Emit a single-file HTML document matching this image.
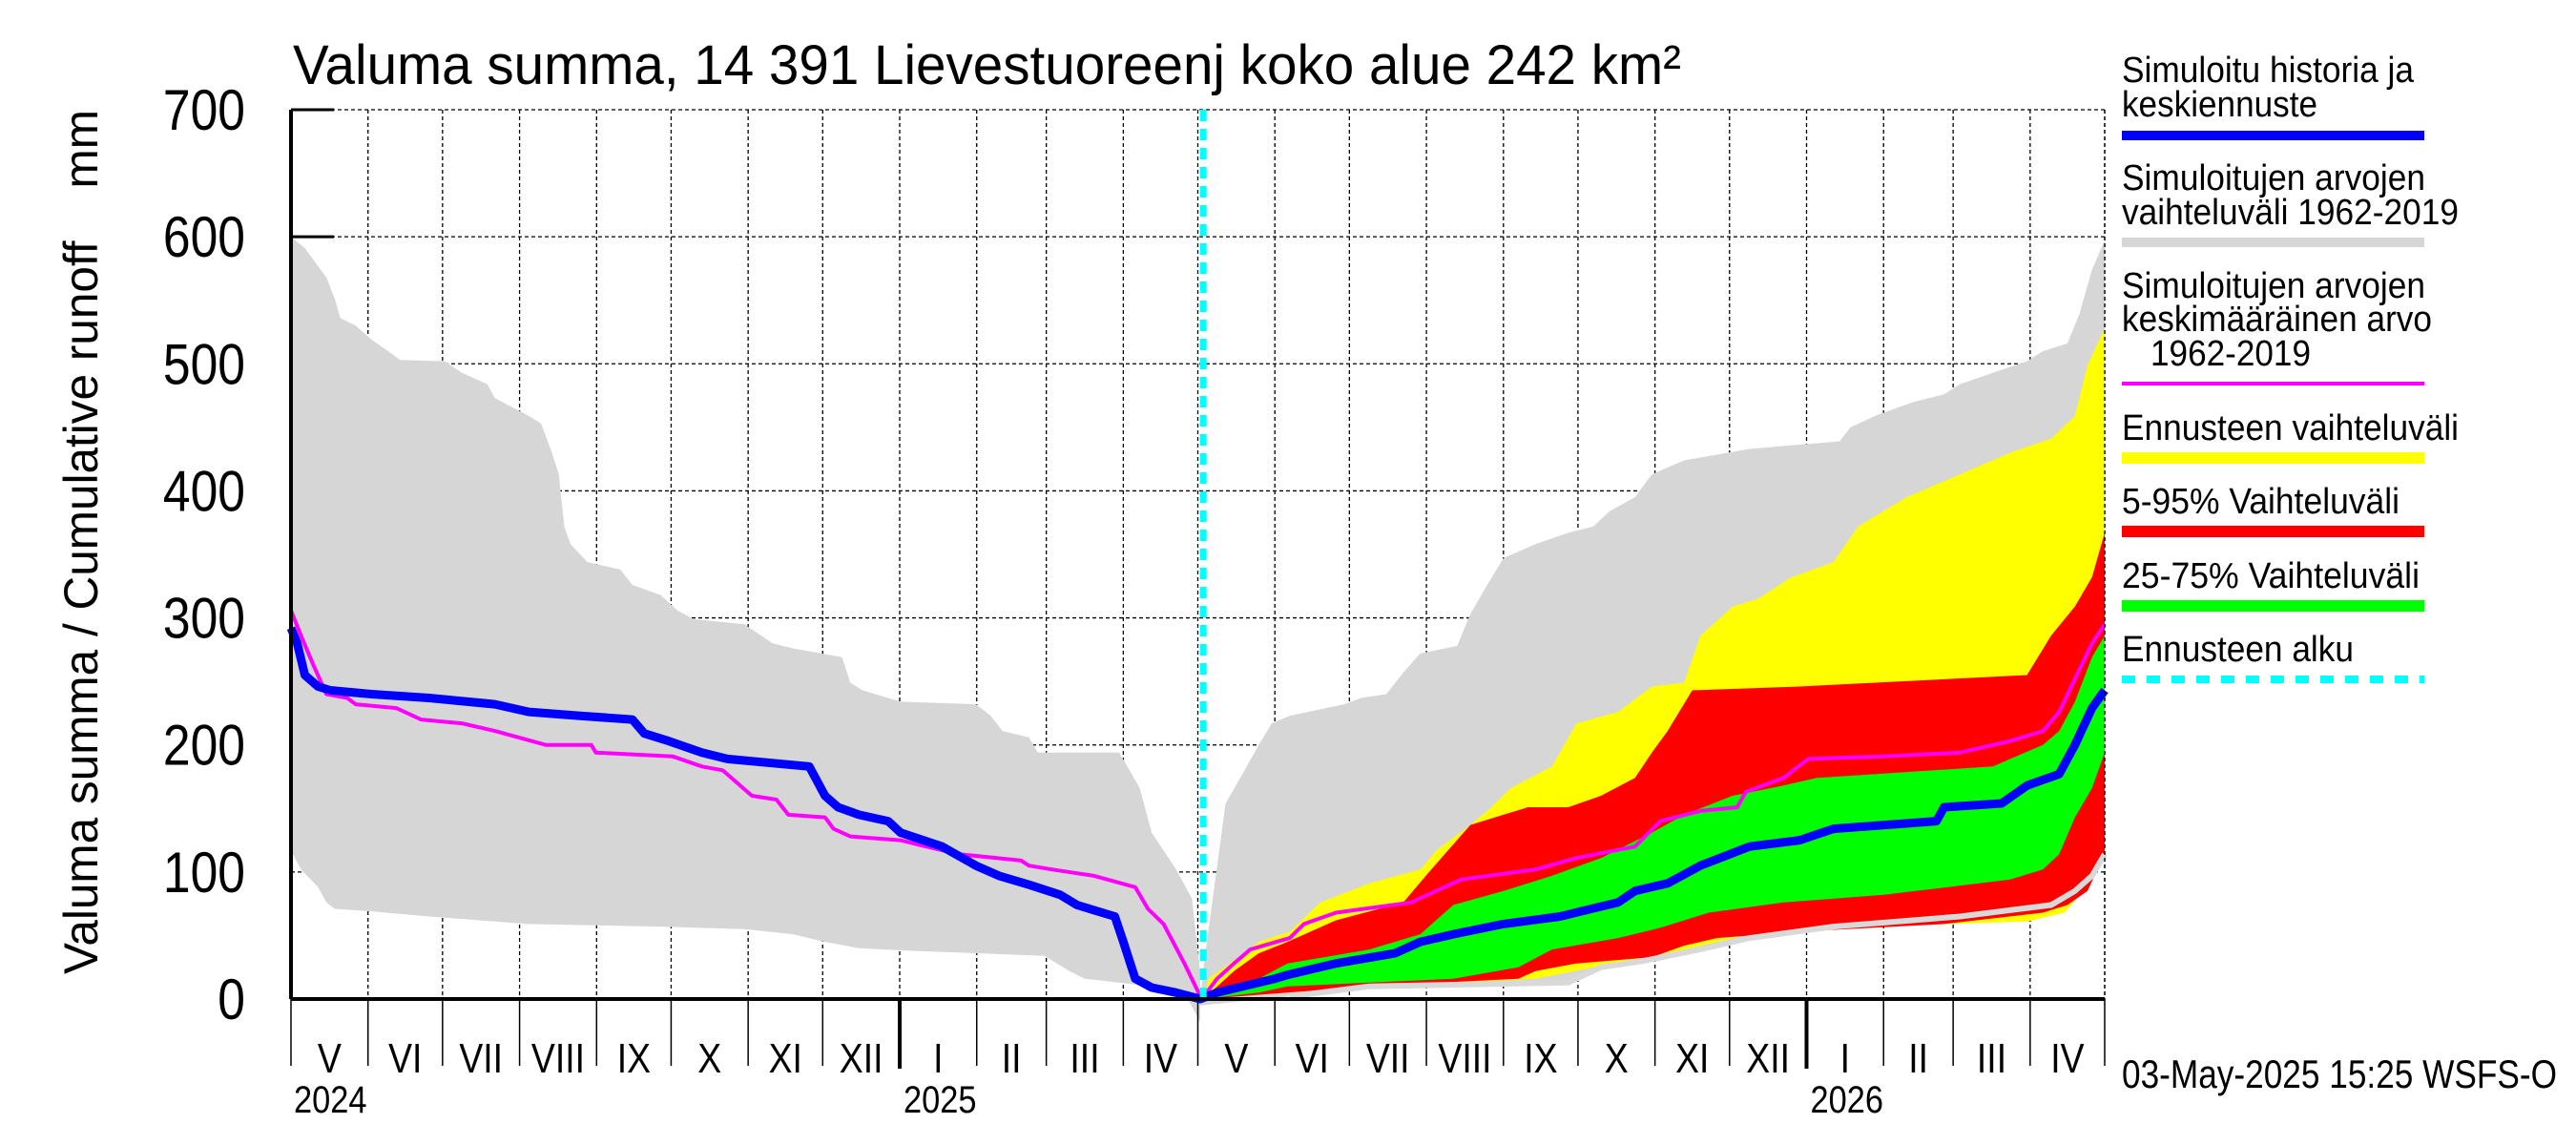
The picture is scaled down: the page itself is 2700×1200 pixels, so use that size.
<!DOCTYPE html>
<html><head><meta charset="utf-8"><style>
html,body{margin:0;padding:0;background:#fff;}
svg{display:block;font-family:"Liberation Sans",sans-serif;}
</style></head><body>
<svg id="chart" width="2700" height="1200" viewBox="0 0 2700 1200" xmlns="http://www.w3.org/2000/svg">
<text x="307" y="88" font-size="58" textLength="1455" lengthAdjust="spacingAndGlyphs">Valuma summa, 14 391 Lievestuoreenj koko alue 242 km²</text>
<text transform="translate(102,568) rotate(-90)" text-anchor="middle" font-size="50" textLength="906" lengthAdjust="spacingAndGlyphs" xml:space="preserve">Valuma summa / Cumulative runoff    mm</text>
<g id="grid"></g>
<g id="bands"></g>
<g id="lines"></g>
<g id="axes"></g>
<g id="legend"></g>
<text x="2224" y="1140" font-size="42" textLength="456" lengthAdjust="spacingAndGlyphs">03-May-2025 15:25 WSFS-O</text>
</svg>
<script>
// time in months from 1 May 2024; values in mm
const yTicks=[0,100,200,300,400,500,600,700];
const monthLabels=["V","VI","VII","VIII","IX","X","XI","XII","I","II","III","IV","V","VI","VII","VIII","IX","X","XI","XII","I","II","III","IV"];
const monthDays=[31,30,31,31,30,31,30,31,31,28,31,30,31,30,31,31,30,31,30,31,31,28,31,30];
const yearLabels=["2024","2025","2026"];
const yearMonths=[0,8,20];
const forecastStart=12.07;

const histGrayUpT=[0,0.18,0.46,0.57,0.64,0.84,1.05,1.27,1.43,2.03,2.25,2.58,2.68,3.12,3.28,3.42,3.51,3.58,3.66,3.88,4.32,4.48,4.86,5.08,5.29,5.95,6.33,6.6,7.25,7.36,7.52,8.01,8.99,9.2,9.37,9.75,9.88,10.95,11.22,11.38,11.71,11.92,12.03];
const histGrayUpV=[600,591,568,551,536,530,519,510,503,502,493,484,473,459,453,430,413,372,358,344,338,326,318,306,299,295,280,276,269,249,243,234,232,223,211,206,194,194,166,131,102,79,22];
const histGrayLoT=[0,0.13,0.35,0.46,0.57,1.05,1.82,2.9,3.1,4.86,5.95,6.6,7.03,7.47,8.12,9.97,10.3,10.5,11.38,11.8,12.03];
const histGrayLoV=[117,102,88,76,71,69,65,60,59,57,55,51,45,40,38,34,22,16,10,7,-18];

const fcGrayUpT=[12.03,12.09,12.36,12.58,12.79,12.96,13.2,13.93,14.15,14.48,14.7,14.92,15.4,15.57,15.79,16.0,16.43,16.87,17.2,17.41,17.74,17.96,18.39,19.26,20.43,20.57,20.89,21.43,21.87,22.09,22.52,22.96,23.17,23.5,23.66,23.83,24];
const fcGrayUpV=[0,33,154,177,200,217,223,232,237,240,257,272,278,303,326,347,358,367,372,384,395,413,424,433,439,450,459,470,476,484,493,502,510,516,539,574,597];
const fcGrayLoT=[12.03,13.2,14.26,16.87,17.3,17.85,18.6,19.26,20.35,22.09,23.28,23.6,23.83,24];
const fcGrayLoV=[-5,2,10,13,25,30,39,48,57,65,74,85,97,114];

const yellowUpT=[12.07,12.14,12.79,13.2,13.61,14.26,14.92,15.13,15.57,15.79,16.1,16.65,16.98,17.52,17.96,18.39,18.61,19.04,19.37,19.8,20.35,20.67,21.33,22.09,22.74,23.28,23.6,23.77,24];
const yellowUpV=[0,16,45,53,76,91,102,117,137,148,166,183,217,226,246,249,286,309,315,332,344,372,395,413,430,441,459,499,528];
const yellowLoT=[12.07,13.17,14.59,16.43,18.39,18.83,19.26,20.78,22.96,23.46,23.67,23.83,24];
const yellowLoV=[0,5,10,16,39,45,51,57,61,68,82,97,110];

const redUpT=[12.07,12.47,12.79,13.17,13.82,14.7,15.02,15.57,16.0,16.33,16.87,17.3,17.74,17.96,18.17,18.5,19.91,22.96,23.28,23.6,23.83,24];
const redUpV=[0,22,36,45,62,76,99,137,145,151,151,160,174,194,211,243,246,255,286,309,332,367];
const redLoT=[12.07,13.17,14.26,16.2,16.43,16.98,17.96,18.39,18.83,19.91,21.87,23.17,23.5,23.77,24];
const redLoV=[0,5,10,16,22,28,33,42,48,53,59,68,74,85,114];

const greenUpT=[12.07,12.79,13.17,14.26,14.92,15.35,16.0,16.65,17.3,17.96,18.39,19.04,19.7,20.13,22.52,22.74,23.17,23.39,23.6,23.83,24];
const greenUpV=[0,16,28,39,51,74,85,97,111,131,145,160,168,174,183,189,200,211,234,269,286];
const greenLoT=[12.07,12.79,13.17,15.35,16.2,16.65,17.52,18.07,18.72,19.7,21.0,22.74,23.17,23.39,23.6,23.83,24];
const greenLoV=[0,5,10,16,25,39,48,56,68,76,82,94,102,114,143,166,194];

const blueT=[0,0.08,0.18,0.35,0.51,1.05,1.82,2.68,3.12,3.77,4.48,4.64,4.97,5.4,5.73,6.82,7.03,7.2,7.47,7.85,8.01,8.55,8.99,9.32,9.75,10.18,10.4,10.89,11.0,11.16,11.38,11.71,12.03,12.25,13.0,13.17,13.82,14.59,14.92,15.35,16.0,16.76,17.52,17.74,18.17,18.61,19.26,19.91,20.35,21.76,21.87,22.63,22.96,23.39,23.6,23.83,24];
const blueV=[292,280,255,246,243,240,237,232,226,223,220,209,203,194,189,183,160,151,145,140,131,120,105,97,90,82,74,65,45,16,9,5,0,5,16,19,28,36,45,51,59,65,76,85,91,105,120,125,134,140,151,154,168,177,200,229,243];

const magT=[0,0.13,0.29,0.46,0.73,0.84,1.38,1.71,2.25,2.68,3.34,3.93,3.99,5.02,5.4,5.67,5.84,6.05,6.38,6.54,7.03,7.14,7.36,8.01,8.34,8.77,9.64,9.75,10.07,10.62,11.16,11.33,11.54,11.82,12.05,12.25,12.47,12.68,13.2,13.39,13.82,14.8,15.45,16.43,16.98,17.74,18.07,18.61,19.1,19.21,19.7,20.02,21.0,22.09,22.74,23.17,23.39,23.6,23.83,24];
const magV=[306,286,263,240,237,232,229,220,217,211,200,200,194,191,183,180,171,160,157,145,143,134,128,125,120,114,109,105,102,97,88,71,59,28,0,16,28,39,48,59,68,76,94,102,111,120,140,148,151,163,174,189,191,194,203,211,226,252,280,295];

const L=305,R=2206,T=115,B=1047,VMAX=700;
const starts=[0];for(let i=0;i<monthDays.length;i++)starts.push(starts[i]+monthDays[i]);
const total=starts[starts.length-1];
function xOf(m){const i=Math.min(Math.floor(m),monthDays.length-1);const f=m-i;return L+(starts[i]+f*monthDays[i])/total*(R-L);}
function yOf(v){return B-v/VMAX*(B-T);}
const NS="http://www.w3.org/2000/svg";
function mk(tag,parent,attrs){const e=document.createElementNS(NS,tag);for(const k in attrs)e.setAttribute(k,attrs[k]);parent.appendChild(e);return e;}
function cond(el,f){const w=el.getComputedTextLength();if(w>0){el.setAttribute('textLength',(w*f).toFixed(1));el.setAttribute('lengthAdjust','spacingAndGlyphs');}}
function linePts(ts,vs){return ts.map((t,i)=>xOf(t).toFixed(1)+","+yOf(vs[i]).toFixed(1));}
function bandD(ut,uv,lt,lv){const a=linePts(ut,uv);const b=linePts(lt,lv).reverse();return "M"+a.join("L")+"L"+b.join("L")+"Z";}
const grid=document.getElementById('grid'),bands=document.getElementById('bands'),lines=document.getElementById('lines'),axes=document.getElementById('axes'),legend=document.getElementById('legend');

yTicks.forEach(v=>{if(v===0)return;
 const g=mk('line',grid,{x1:L,x2:R,y1:yOf(v),y2:yOf(v),stroke:'#000','stroke-width':1.3,'stroke-dasharray':'4,3'});
 
 });
for(let i=1;i<=monthDays.length;i++){
 const x=xOf(i);
 const g=mk('line',grid,{x1:x,x2:x,y1:T,y2:B,stroke:'#000','stroke-width':1.3,'stroke-dasharray':'4,3'});
 
 }
const ax=mk('line',axes,{x1:L,x2:L,y1:T,y2:B,stroke:'#000','stroke-width':4});


[600,700].forEach(v=>{const t=mk('line',axes,{x1:L,x2:L+45,y1:yOf(v),y2:yOf(v),stroke:'#000','stroke-width':3});
 
 });

function band(name,color,ut,uv,lt,lv){const p=mk('path',bands,{d:bandD(ut,uv,lt,lv),fill:color,stroke:'none'});
 
 }
band('history-range-band','#d6d6d6',histGrayUpT,histGrayUpV,histGrayLoT,histGrayLoV);
band('climatology-range-band','#d6d6d6',fcGrayUpT,fcGrayUpV,fcGrayLoT,fcGrayLoV);
band('forecast-range-band','#ffff00',yellowUpT,yellowUpV,yellowLoT,yellowLoV);
band('p5-95-band','#ff0000',redUpT,redUpV,redLoT,redLoV);
band('p25-75-band','#00ff00',greenUpT,greenUpV,greenLoT,greenLoV);

function pl(name,ts,vs,color,w){const p=mk('polyline',lines,{points:linePts(ts,vs).join(' '),fill:'none',stroke:color,'stroke-width':w,'stroke-linejoin':'round'});
 
 }
pl('climatology-min-line',fcGrayLoT.slice(1),fcGrayLoV.slice(1),'#d9d9d9',6);
pl('mean-line',magT,magV,'#ff00ff',4);
pl('simulated-line',blueT,blueV,'#0000ff',9);
const fx=xOf(forecastStart);
const cy=mk('line',lines,{x1:fx,x2:fx,y1:T,y2:B,stroke:'#00ffff','stroke-width':7,'stroke-dasharray':'12,8'});



const bx=mk('line',axes,{x1:L,x2:R,y1:B,y2:B,stroke:'#000','stroke-width':4});


const rb=mk('line',axes,{x1:R,x2:R,y1:T,y2:B,stroke:'#000','stroke-width':1.3,'stroke-dasharray':'4,3'});


yTicks.forEach(v=>{const t=mk('text',axes,{x:257,y:yOf(v)+21,'text-anchor':'end','font-size':60});t.textContent=v;
 
 
 cond(t,0.86);});
for(let i=0;i<=monthDays.length;i++){
 const x=xOf(i);const isJan=yearMonths.indexOf(i)>0;
 const t=mk('line',axes,{x1:x,x2:x,y1:B,y2:isJan?1120:1117,stroke:'#000','stroke-width':isJan?4:1.5});
 
 }
monthLabels.forEach((m,i)=>{const t=mk('text',axes,{x:(xOf(i)+xOf(i+1))/2,y:1124,'text-anchor':'middle','font-size':44});t.textContent=m;
 
 
 cond(t,0.85);});
yearLabels.forEach((y,i)=>{const x=i===0?L+3:xOf(yearMonths[i])+4;const t=mk('text',axes,{x:x,y:1166,'font-size':40});t.textContent=y;
 
 
 cond(t,0.86);});

const legItems=[
 {lines:["Simuloitu historia ja","keskiennuste"],tx:[2224,2224],tw:[306,205],ty:[86,122],ly:142,c:'#0000ff',w:10,dash:null},
 {lines:["Simuloitujen arvojen","vaihteluväli 1962-2019"],tx:[2224,2224],tw:[318,353],ty:[199,235],ly:254,c:'#d6d6d6',w:10,dash:null},
 {lines:["Simuloitujen arvojen","keskimääräinen arvo","1962-2019"],tx:[2224,2224,2254],tw:[318,325,168],ty:[312,347,383],ly:402,c:'#ff00ff',w:4,dash:null},
 {lines:["Ennusteen vaihteluväli"],tx:[2224],tw:[353],ty:[461],ly:480,c:'#ffff00',w:12,dash:null},
 {lines:["5-95% Vaihteluväli"],tx:[2224],tw:[291],ty:[538],ly:557,c:'#ff0000',w:12,dash:null},
 {lines:["25-75% Vaihteluväli"],tx:[2224],tw:[312],ty:[616],ly:635,c:'#00ff00',w:12,dash:null},
 {lines:["Ennusteen alku"],tx:[2224],tw:[243],ty:[693],ly:712,c:'#00ffff',w:8,dash:'14,12'}];
legItems.forEach(it=>{
 it.lines.forEach((s,j)=>{const t=mk('text',legend,{x:it.tx[j],y:it.ty[j],'font-size':38,textLength:it.tw[j],lengthAdjust:'spacingAndGlyphs'});t.textContent=s;
  
  });
 const a={x1:2224,x2:2541,y1:it.ly,y2:it.ly,stroke:it.c,'stroke-width':it.w};if(it.dash)a['stroke-dasharray']=it.dash;
 const l=mk('line',legend,a);
 
 });
</script>
</body></html>
